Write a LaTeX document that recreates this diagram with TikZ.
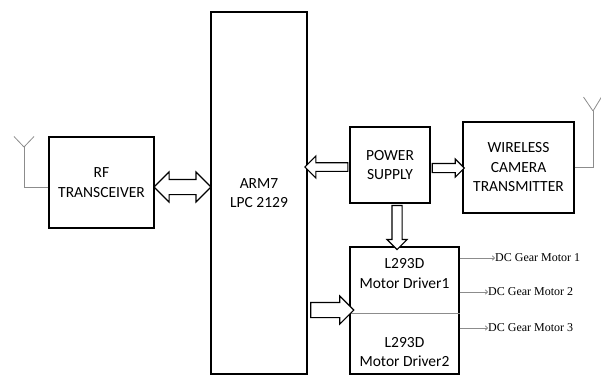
\documentclass[tikz,border=0pt]{standalone}
\usepackage{fontspec}
\setmainfont{Carlito}
\newfontfamily\serifmotor{Liberation Serif}
\usetikzlibrary{arrows.meta,positioning,calc,shapes.arrows}

\begin{document}
\begin{tikzpicture}[x=1pt,y=-1pt,
  block/.style={draw,line width=1.2pt,fill=white,inner sep=0pt,
    align=center,font=\fontsize{15.5}{19.5}\selectfont},
  drvtext/.style={inner sep=0pt,align=center,font=\fontsize{15.5}{19.5}\selectfont},
  fat/.style={single arrow,draw,line width=1.1pt,fill=white,inner xsep=0pt,
    single arrow head indent=0pt},
  fatboth/.style={double arrow,draw,line width=1.1pt,fill=white,inner xsep=0pt,
    double arrow head indent=0pt},
  wire/.style={draw=black!45,line width=0.8pt},
  motorline/.style={wire,-{To[length=3pt,width=5pt]}},
  motor/.style={font=\serifmotor\fontsize{12}{14}\selectfont,anchor=west,inner sep=0pt}
]
\useasboundingbox (0,0) rectangle (601,376);
% blocks
\node[block,minimum width=96pt,minimum height=362pt] (arm) at (259,193)
  {ARM7\\LPC 2129};
\node[block,minimum width=105pt,minimum height=91pt] (rf) at (101.5,182.5)
  {RF\\TRANSCEIVER};
\node[block,minimum width=80pt,minimum height=76pt] (pwr) at (390,165)
  {POWER\\SUPPLY};
\node[block,minimum width=111pt,minimum height=91pt] (cam) at (518.5,167.5)
  {WIRELESS\\CAMERA\\TRANSMITTER};
\node[block,minimum width=109pt,minimum height=127pt] (drv) at (404.5,310.5) {};
\draw[wire] (drv.west |- 0,313) -- (drv.east |- 0,313);
\node[drvtext] (drv1) at (404.5,273.5) {L293D\\Motor Driver1};
\node[drvtext] (drv2) at (404.5,352) {L293D\\Motor Driver2};
% fat arrows
\node[fatboth,minimum height=57pt,inner ysep=7pt,
  double arrow head extend=7.5pt] (rfarm) at (182.5,187) {};
\node[fat,minimum height=43pt,inner ysep=3.75pt,
  single arrow head extend=6.75pt,rotate=180] (pwrarm) at (328.5,167) {};
\node[fat,minimum height=32pt,inner ysep=4pt,
  single arrow head extend=4.5pt] (pwrcam) at (446,168) {};
\node[fat,minimum height=44pt,inner ysep=4.5pt,
  single arrow head extend=5pt,rotate=-90] (pwrdrv) at (397,225) {};
\node[fat,minimum height=43pt,inner ysep=7pt,
  single arrow head extend=6.5pt] (armdrv) at (328.5,310) {};
% motor outputs
\node[motor] (m1) at (495,258) {DC Gear Motor 1};
\node[motor] (m2) at (488,292) {DC Gear Motor 2};
\node[motor] (m3) at (488,328) {DC Gear Motor 3};
\draw[motorline] (m1.west -| drv.east) -- (m1.west);
\draw[motorline] (m2.west -| drv.east) -- (m2.west);
\draw[motorline] (m3.west -| drv.east) -- (m3.west);
% antennas
\coordinate (antL) at (24,147);
\coordinate (antR) at (593,111);
\draw[wire] ([yshift=-4.5pt]rf.west) -| (antL);
\draw[wire] (antL) -- ++(-10,-10.5) (antL) -- ++(10,-10.5);
\draw[wire] (cam.east) -| (antR);
\draw[wire] (antR) -- ++(-9.5,-14) (antR) -- ++(8.5,-14);
\end{tikzpicture}
\end{document}
